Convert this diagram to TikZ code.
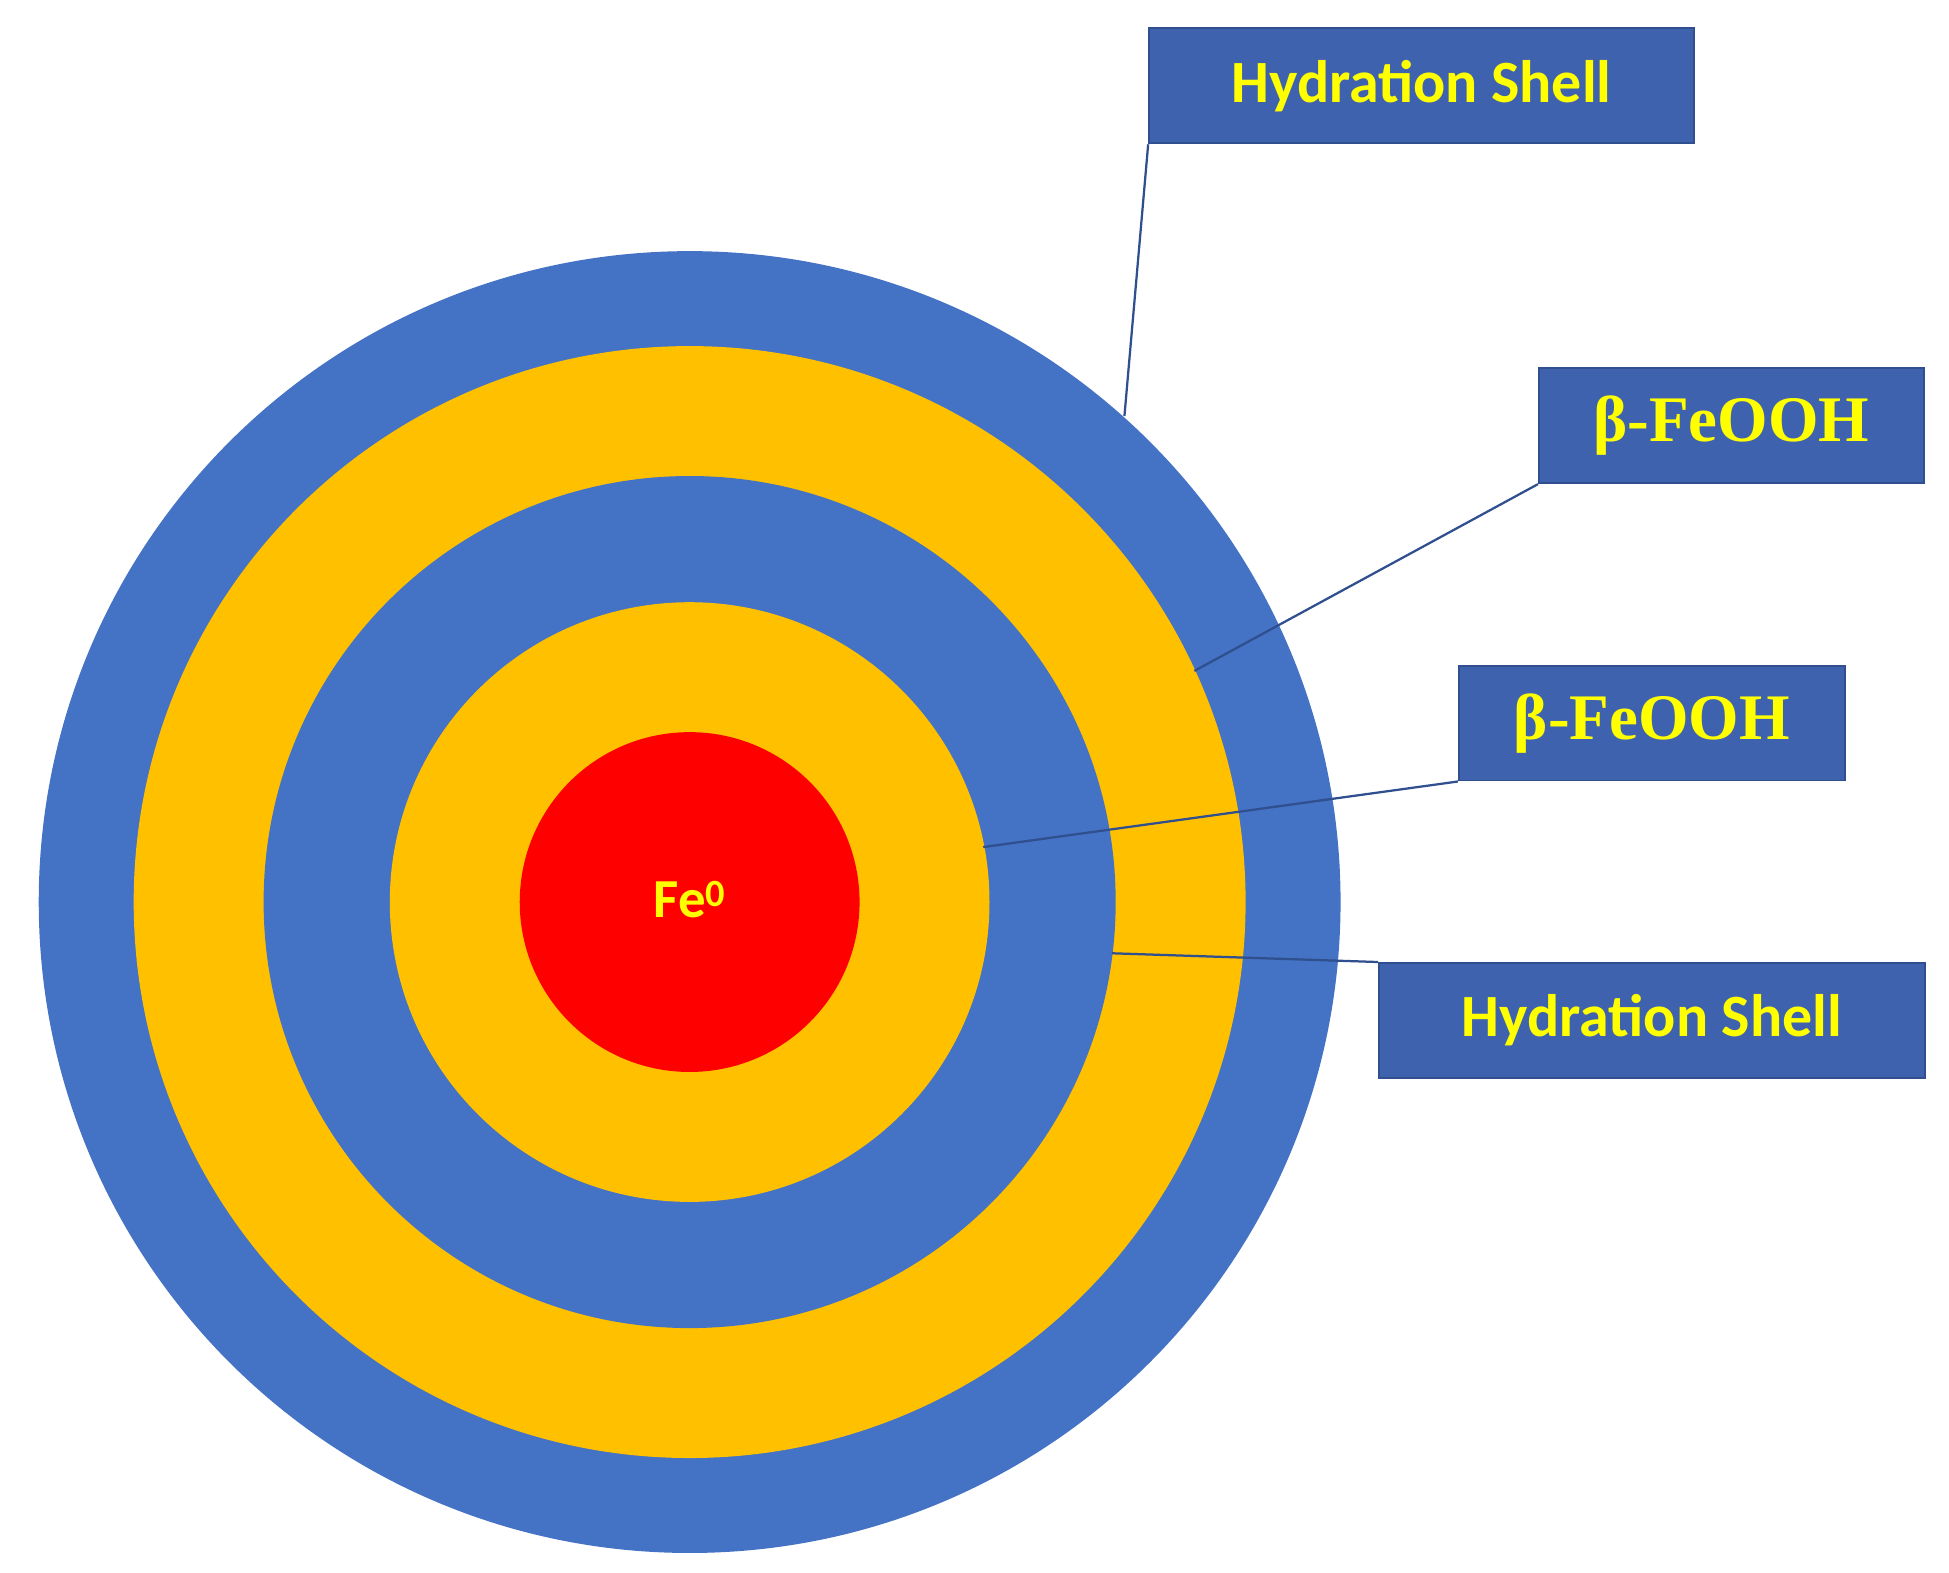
\documentclass[tikz,border=0pt]{standalone}
\usepackage{fontspec}
\setmainfont{Liberation Serif}
\newfontfamily\carlitofont{Carlito}
\definecolor{rblue}{HTML}{4472C4}
\definecolor{ryel}{HTML}{FFC000}
\definecolor{bxfill}{HTML}{3F62AE}
\definecolor{bxline}{HTML}{2F4F8F}
\definecolor{tyel}{HTML}{FFFF00}
\tikzset{lbl/.style={draw=bxline,fill=bxfill,line width=1.5pt,text=tyel,inner sep=0pt,anchor=north west},
lead/.style={draw=bxline,line width=1.8pt}}
\begin{document}
\begin{tikzpicture}[x=1pt,y=-1pt]
\useasboundingbox (0,0) rectangle (1560,1259);
\fill[rblue] (552,722) circle (521);
\fill[ryel] (552,722) circle (445);
\fill[rblue] (552,722) circle (341);
\fill[ryel] (552,722) circle (240);
\fill[red] (552,722) circle (136);
\node[text=tyel,font=\carlitofont\bfseries\fontsize{44}{50}\selectfont] (fe) at (552,720) {Fe\textsuperscript{0}};
\node[lbl,minimum width=436pt,minimum height=92pt,font=\carlitofont\bfseries\fontsize{48}{54}\selectfont] (h1) at (919,22) {Hydration Shell};
\node[lbl,minimum width=308pt,minimum height=92pt,font=\bfseries\fontsize{52}{58}\selectfont] (b1) at (1231,294) {β-FeOOH};
\node[lbl,minimum width=309pt,minimum height=92pt,font=\bfseries\fontsize{52}{58}\selectfont] (b2) at (1167,532) {β-FeOOH};
\node[lbl,minimum width=437pt,minimum height=92pt,font=\carlitofont\bfseries\fontsize{48}{54}\selectfont] (h2) at (1103,770) {Hydration Shell};
\coordinate (e1) at (900,333);
\coordinate (e2) at (956,537);
\coordinate (e3) at (787,678);
\coordinate (e4) at (890,763);
\draw[lead] (h1.south west) -- (e1);
\draw[lead] (b1.south west) -- (e2);
\draw[lead] (b2.south west) -- (e3);
\draw[lead] (h2.north west) -- (e4);
\end{tikzpicture}
\end{document}
